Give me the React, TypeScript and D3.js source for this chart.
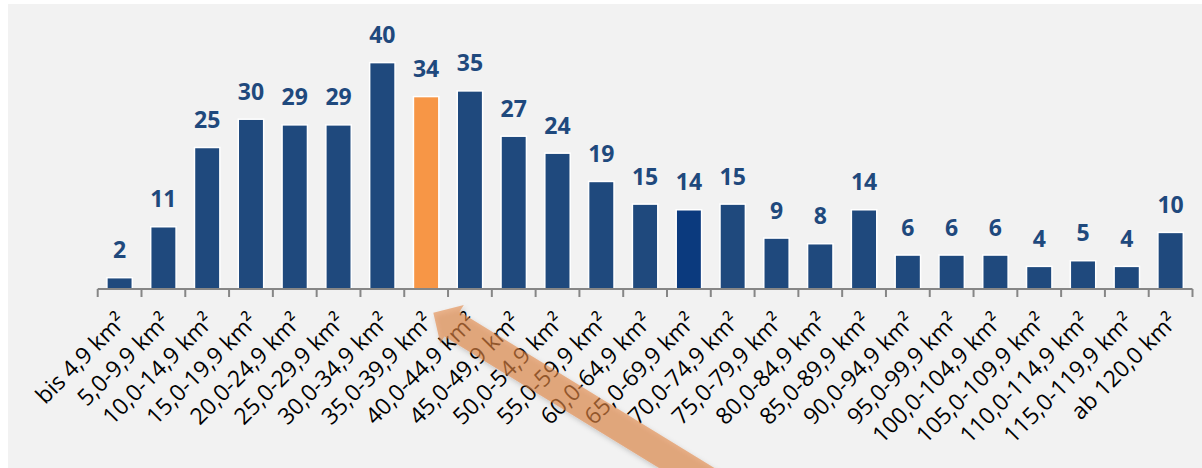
import React from "react";
import * as d3 from "d3";

const categories = [
  "bis 4,9 km²", "5,0-9,9 km²", "10,0-14,9 km²", "15,0-19,9 km²", "20,0-24,9 km²",
  "25,0-29,9 km²", "30,0-34,9 km²", "35,0-39,9 km²", "40,0-44,9 km²", "45,0-49,9 km²",
  "50,0-54,9 km²", "55,0-59,9 km²", "60,0-64,9 km²", "65,0-69,9 km²", "70,0-74,9 km²",
  "75,0-79,9 km²", "80,0-84,9 km²", "85,0-89,9 km²", "90,0-94,9 km²", "95,0-99,9 km²",
  "100,0-104,9 km²", "105,0-109,9 km²", "110,0-114,9 km²", "115,0-119,9 km²", "ab 120,0 km²",
];
const values = [2, 11, 25, 30, 29, 29, 40, 34, 35, 27, 24, 19, 15, 14, 15, 9, 8, 14, 6, 6, 6, 4, 5, 4, 10];
const highlighted = "35,0-39,9 km²";
const darker = "65,0-69,9 km²";

const W = 1202;
const H = 468;

export default function App() {
  const x = d3.scaleBand<string>().domain(categories).range([97.7, 1192.5]).paddingInner(0.42).paddingOuter(0.21);
  const y = d3.scaleLinear().domain([0, 45]).range([289, 289 - 5.66 * 45]);
  const step = x.step();
  const ticks = d3.range(categories.length + 1).map((i) => 97.7 + i * step);

  const colorOf = (c: string) => (c === highlighted ? "#F79646" : c === darker ? "#0B3A7E" : "#1F497D");

  // arrow geometry
  const tip = [433.3, 312.7];
  const ang = (31.5 * Math.PI) / 180;
  const u = [Math.cos(ang), Math.sin(ang)];
  const n = [-Math.sin(ang), Math.cos(ang)];
  const p = (t: number, s: number) => [tip[0] + u[0] * t + n[0] * s, tip[1] + u[1] * t + n[1] * s];
  const headLen = 22;
  const pts = [p(0, 0), p(headLen, 22.5), p(headLen, 14.5), p(420, 14.5), p(420, -14.5), p(headLen, -14.5), p(headLen, -22.5)];
  const arrowPath = "M" + pts.map((q) => q.join(",")).join("L") + "Z";

  return (
    <div style={{ position: "absolute", left: 0, top: 0 }}>
      <svg width={W} height={H} style={{ display: "block" }}>
        <defs>
          <filter id="sh" x="-20%" y="-20%" width="140%" height="140%">
            <feDropShadow dx="2" dy="3" stdDeviation="2.5" floodColor="#000" floodOpacity="0.3" />
          </filter>
        </defs>
        <rect x={8} y={4} width={W - 8} height={H - 4} fill="#F2F2F2" />
        {categories.map((c, i) => (
          <rect
            key={c}
            x={x(c)}
            y={y(values[i])}
            width={x.bandwidth()}
            height={y(0) - y(values[i])}
            fill={colorOf(c)}
            stroke="#FFFFFF"
            strokeWidth={1.5}
          />
        ))}
        {categories.map((c, i) => (
          <text
            key={"v" + c}
            x={(x(c) as number) + x.bandwidth() / 2}
            y={y(values[i]) - 19.5}
            textAnchor="middle"
            fontFamily="'Open Sans', sans-serif"
            fontWeight="bold"
            fontSize={23}
            fill="#1F497D"
          >
            {values[i]}
          </text>
        ))}
        <line x1={97.7} x2={1192.5} y1={289} y2={289} stroke="#868686" strokeWidth={2} />
        {ticks.map((t, i) => (
          <line key={"t" + i} x1={t} x2={t} y1={289} y2={297} stroke="#868686" strokeWidth={2} />
        ))}
        {categories.map((c) => {
          const cx = (x(c) as number) + x.bandwidth() / 2;
          return (
            <text
              key={"l" + c}
              transform={`translate(${cx + 8},323) rotate(-45)`}
              textAnchor="end"
              fontFamily="'Open Sans', sans-serif"
              fontSize={23}
              fill="#000000"
            >
              {c}
            </text>
          );
        })}
        <path d={arrowPath} fill="rgb(226,135,70)" fillOpacity={0.6} filter="url(#sh)" />
      </svg>
    </div>
  );
}
